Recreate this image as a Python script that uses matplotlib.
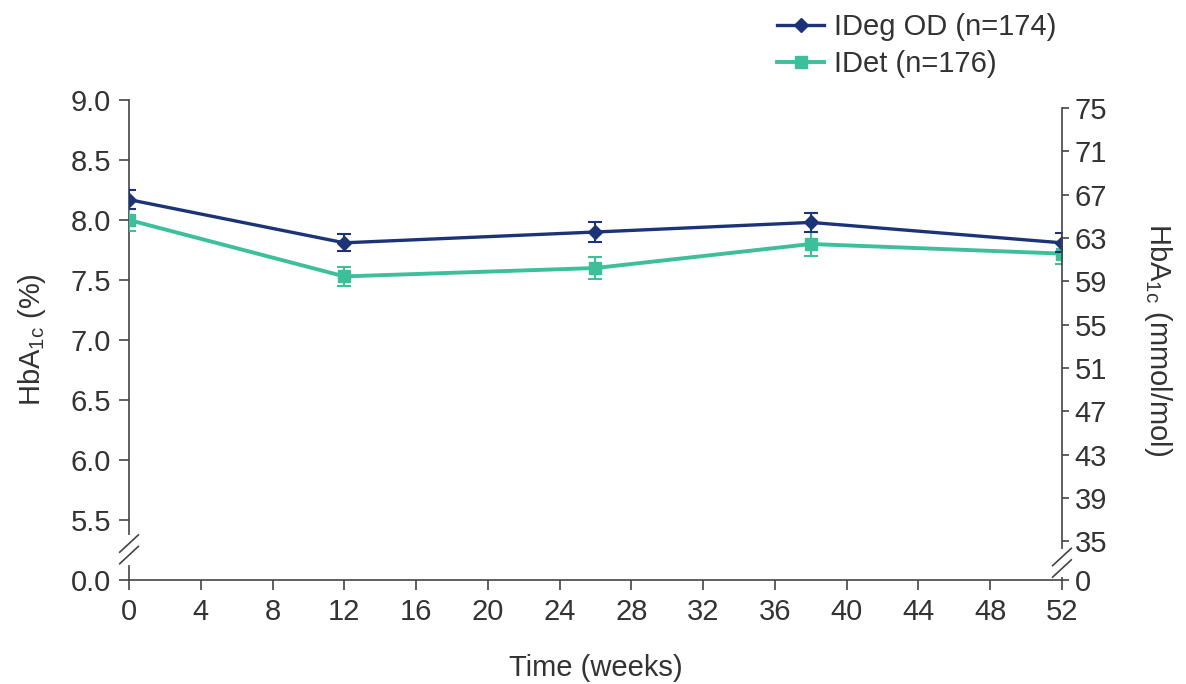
import numpy as np
import matplotlib
matplotlib.use("Agg")
from matplotlib import pyplot as plt
from matplotlib.lines import Line2D

plt.rcParams['font.family'] = ['Liberation Sans', 'DejaVu Sans']
plt.rcParams['mathtext.fontset'] = 'custom'
plt.rcParams['mathtext.rm'] = 'Liberation Sans'

weeks = [0, 12, 26, 38, 52]
ideg_mean = [8.17, 7.81, 7.90, 7.98, 7.81]
ideg_err = [0.08, 0.07, 0.08, 0.08, 0.08]
idet_mean = [8.00, 7.53, 7.60, 7.80, 7.72]
idet_err = [0.09, 0.08, 0.09, 0.10, 0.09]

x_ticks = list(range(0, 53, 4))
left_ticks = [5.0, 5.5, 6.0, 6.5, 7.0, 7.5, 8.0, 8.5, 9.0]
left_labels = ['0.0', '5.5', '6.0', '6.5', '7.0', '7.5', '8.0', '8.5', '9.0']
right_ticks = [35, 39, 43, 47, 51, 55, 59, 63, 67, 71, 75]

navy = '#1c3377'
teal = '#3dbf9c'
text_col = '#333333'
fs = 21

fig = plt.figure(figsize=(11.86, 6.84), dpi=100)
ax = fig.add_axes([0.1088, 0.152, 0.7866, 0.7018])

ax.errorbar(weeks, ideg_mean, yerr=ideg_err, color=navy, lw=2.4, marker='D',
            ms=7, capsize=5, elinewidth=1.5, capthick=1.5, zorder=4)
ax.errorbar(weeks, idet_mean, yerr=idet_err, color=teal, lw=2.8, marker='s',
            ms=8, capsize=5, elinewidth=1.5, capthick=1.5, zorder=3)

ax.set_xlim(0, 52)
ax.set_ylim(5.0, 9.0)
ax.set_xticks(x_ticks)
ax.set_yticks(left_ticks)
ax.set_yticklabels(left_labels)
for s in ['top', 'right']:
    ax.spines[s].set_visible(False)
for s in ['left', 'bottom']:
    ax.spines[s].set_color('#444444')
    ax.spines[s].set_linewidth(1.2)
ax.tick_params(axis='both', direction='out', length=7, width=1.2, color='#444444',
               labelsize=fs, labelcolor=text_col, pad=6)
ax.set_xlabel('Time (weeks)', fontsize=fs, color=text_col, labelpad=20)
ax.set_ylabel('HbA$_{\\mathrm{1c}}$ (%)', fontsize=fs, color=text_col, labelpad=16)

# right axis in mmol/mol
ax2 = ax.twinx()
ax2.set_ylim(31.42, 75.74)
ax2.set_yticks([31.42] + right_ticks)
ax2.set_yticklabels(['0'] + [str(t) for t in right_ticks])
for s in ['top', 'left', 'bottom']:
    ax2.spines[s].set_visible(False)
ax2.spines['right'].set_bounds(31.42, 75)
ax2.spines['right'].set_color('#444444')
ax2.spines['right'].set_linewidth(1.2)
ax2.tick_params(axis='y', direction='out', length=5, width=1.2, color='#444444',
                labelsize=fs, labelcolor=text_col, pad=4)
ax2.set_ylabel('HbA$_{\\mathrm{1c}}$ (mmol/mol)', fontsize=fs, color=text_col,
               rotation=270, labelpad=48)

# axis break marks
def break_mark(axis, xa, ya):
    for dy in (-0.012, 0.012):
        axis.plot([xa - 0.010, xa + 0.010], [ya + dy - 0.018, ya + dy + 0.018],
                  transform=axis.transAxes, color='#444444', lw=1.2, clip_on=False, zorder=6)

ax.plot([0, 0], [0.035, 0.09], transform=ax.transAxes, color='white', lw=3, clip_on=False, zorder=5)
break_mark(ax, 0.0, 0.064)
ax2.plot([1, 1], [0.01, 0.06], transform=ax2.transAxes, color='white', lw=3, clip_on=False, zorder=5)
break_mark(ax2, 1.0, 0.036)

handles = [Line2D([], [], color=navy, lw=2.4, marker='D', ms=7),
           Line2D([], [], color=teal, lw=2.8, marker='s', ms=8)]
labels = ['IDeg OD (n=174)', 'IDet (n=176)']
fig.legend(handles, labels, loc='upper left', bbox_to_anchor=(0.643, 1.002), frameon=False,
           fontsize=fs, labelcolor=text_col, handlelength=1.6, handletextpad=0.35,
           borderpad=0, labelspacing=0.3)

fig.savefig('out.png', dpi=100)
